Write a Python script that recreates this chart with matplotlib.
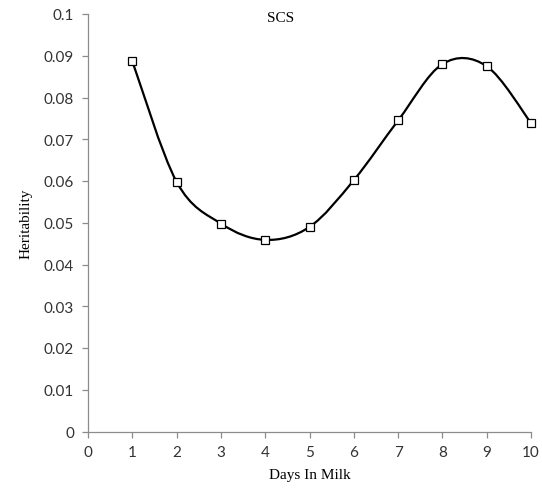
import numpy as np
import matplotlib
matplotlib.use('Agg')
from matplotlib import pyplot as plt
from matplotlib.path import Path
from matplotlib.patches import PathPatch

days = [1, 2, 3, 4, 5, 6, 7, 8, 9, 10]
heritability = [0.0887, 0.0598, 0.0498, 0.0459, 0.0490, 0.0602, 0.0745, 0.0880, 0.0875, 0.0739]
x_ticks = list(range(0, 11))
y_ticks = [0, 0.01, 0.02, 0.03, 0.04, 0.05, 0.06, 0.07, 0.08, 0.09, 0.1]
y_ticklabels = ['0', '0.01', '0.02', '0.03', '0.04', '0.05', '0.06', '0.07', '0.08', '0.09', '0.1']


def smooth_path(x, y):
    # spreadsheet-style smoothed line: Catmull-Rom segments as cubic Beziers
    pts = np.column_stack([x, y]).astype(float)
    p = np.vstack([pts[0], pts, pts[-1]])
    verts = [pts[0]]
    codes = [Path.MOVETO]
    for i in range(1, len(p) - 2):
        c1 = p[i] + (p[i + 1] - p[i - 1]) / 6
        c2 = p[i + 1] - (p[i + 2] - p[i]) / 6
        verts += [c1, c2, p[i + 1]]
        codes += [Path.CURVE4] * 3
    return Path(verts, codes)


fig = plt.figure(figsize=(5.42, 4.89), dpi=100)
ax = fig.add_axes([88 / 542, 1 - 432.5 / 489, 443 / 542, 417.5 / 489])

ax.add_patch(PathPatch(smooth_path(days, heritability), facecolor='none',
                       edgecolor='black', lw=1.6, zorder=2, clip_on=False))
ax.plot(days, heritability, linestyle='none', marker='s', markersize=6,
        markerfacecolor='white', markeredgecolor='black', markeredgewidth=0.9,
        zorder=3, clip_on=False)

ax.set_xlim(0, 10)
ax.set_ylim(0, 0.1)
ax.set_xticks(x_ticks)
ax.set_yticks(y_ticks)
ax.set_yticklabels(y_ticklabels)

for s in ['top', 'right']:
    ax.spines[s].set_visible(False)
for s in ['left', 'bottom']:
    ax.spines[s].set_color('#8c8c8c')
    ax.spines[s].set_linewidth(0.9)
ax.tick_params(direction='out', length=4, width=0.9, color='#8c8c8c',
               labelsize=11, labelcolor='#333333', pad=6)
for lab in ax.get_xticklabels() + ax.get_yticklabels():
    lab.set_family('Lato')

ax.set_xlabel('Days In Milk', family='Liberation Serif', fontsize=11, labelpad=6)
ax.set_ylabel('Heritability', family='Liberation Serif', fontsize=11, labelpad=8)
fig.text(281 / 542, 1 - 19 / 489, 'SCS', family='Liberation Serif', fontsize=11,
         ha='center', va='center')

plt.savefig('out.png', dpi=100)
